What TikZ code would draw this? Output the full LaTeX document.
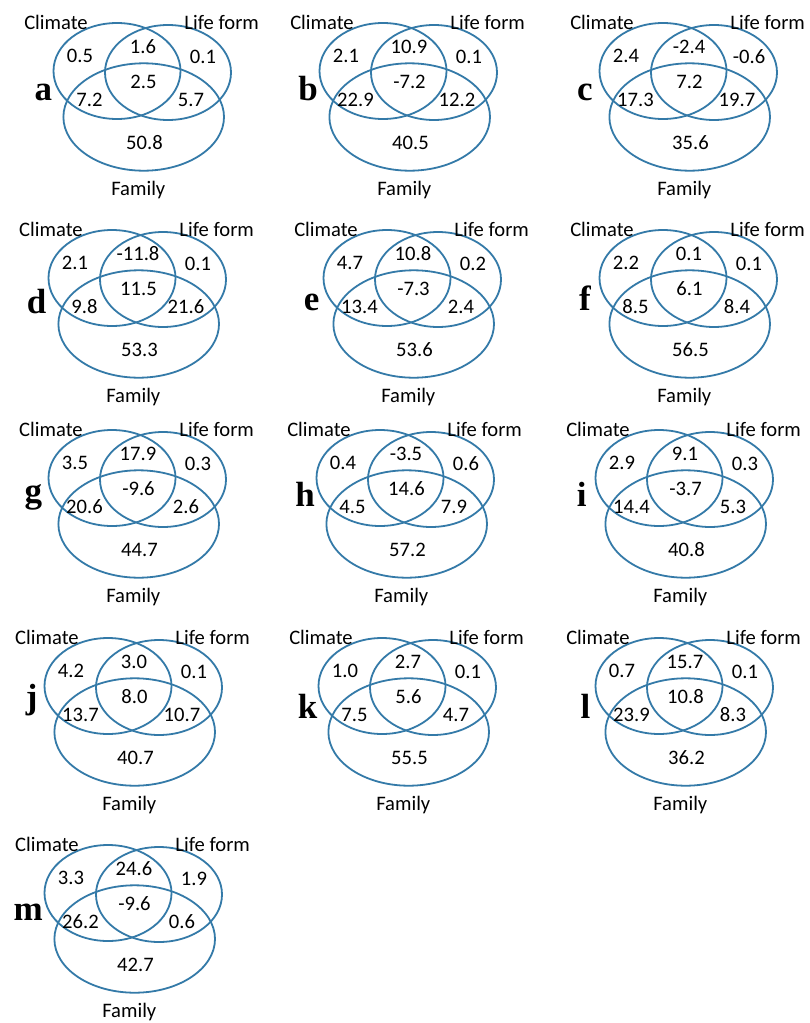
\documentclass[tikz,border=0pt]{standalone}
\usepackage{fontspec}
\setmainfont{Carlito}
\newfontfamily\letterfont{Liberation Serif}
\definecolor{vennblue}{RGB}{52,122,168}
\tikzset{
  vring/.style={draw=vennblue, line width=1.8pt},
  vtext/.style={font=\fontsize{20.6}{24}\selectfont, inner sep=0pt, text=black},
  vletter/.style={font=\letterfont\bfseries\fontsize{35}{40}\selectfont, inner sep=0pt, anchor=base},
}
% #1 panel name, #2 shift "dx,dy", #3..#9 the seven region values
\newcommand\vennpanel[9]{%
  \begin{scope}[shift={(#2)}]
    \draw[vring] (117,71) ellipse [x radius=63.5pt, y radius=48pt];
    \draw[vring] (168,72.5) ellipse [x radius=63pt, y radius=47.5pt];
    \draw[vring] (143.7,117) ellipse [x radius=80.3pt, y radius=53.7pt];
    \node[vtext] (#1-cl) at (56,22.7) {Climate};
    \node[vtext] (#1-lf) at (221.7,22.7) {Life form};
    \node[vtext] (#1-fa) at (138.3,190) {Family};
    \node[vtext] (#1-n1) at (80,55.5) {#3};
    \node[vtext] (#1-n2) at (143,46.7) {#4};
    \node[vtext] (#1-n3) at (203,57) {#5};
    \node[vtext] (#1-n4) at (143.5,82) {#6};
    \node[vtext] (#1-n5) at (89.5,100) {#7};
    \node[vtext] (#1-n6) at (191,100) {#8};
    \node[vtext] (#1-n7) at (144.5,142.7) {#9};
  \end{scope}%
}
\begin{document}
\begin{tikzpicture}[x=1pt,y=-1pt]
  \fill[white] (0,0) rectangle (809,1023);
  \useasboundingbox (0,0) rectangle (809,1023);

  \vennpanel{a}{0,0}{0.5}{1.6}{0.1}{2.5}{7.2}{5.7}{50.8}
  \vennpanel{b}{266,0}{2.1}{10.9}{0.1}{-7.2}{22.9}{12.2}{40.5}
  \vennpanel{c}{546,0}{2.4}{-2.4}{-0.6}{7.2}{17.3}{19.7}{35.6}
  \vennpanel{d}{-5,207}{2.1}{-11.8}{0.1}{11.5}{9.8}{21.6}{53.3}
  \vennpanel{e}{270,207}{4.7}{10.8}{0.2}{-7.3}{13.4}{2.4}{53.6}
  \vennpanel{f}{546,207}{2.2}{0.1}{0.1}{6.1}{8.5}{8.4}{56.5}
  \vennpanel{g}{-5,407}{3.5}{17.9}{0.3}{-9.6}{20.6}{2.6}{44.7}
  \vennpanel{h}{263,407}{0.4}{-3.5}{0.6}{14.6}{4.5}{7.9}{57.2}
  \vennpanel{i}{542,407}{2.9}{9.1}{0.3}{-3.7}{14.4}{5.3}{40.8}
  \vennpanel{j}{-9,615}{4.2}{3.0}{0.1}{8.0}{13.7}{10.7}{40.7}
  \vennpanel{k}{265,615}{1.0}{2.7}{0.1}{5.6}{7.5}{4.7}{55.5}
  \vennpanel{l}{542,615}{0.7}{15.7}{0.1}{10.8}{23.9}{8.3}{36.2}
  \vennpanel{m}{-9,822}{3.3}{24.6}{1.9}{-9.6}{26.2}{0.6}{42.7}

  \node[vletter] (a-let) at (43.3,100) {a};
  \node[vletter] (b-let) at (308,100) {b};
  \node[vletter] (c-let) at (585,100) {c};
  \node[vletter] (d-let) at (36.7,313) {d};
  \node[vletter] (e-let) at (311.7,310) {e};
  \node[vletter] (f-let) at (585,310) {f};
  \node[vletter] (g-let) at (33.3,502.5) {g};
  \node[vletter] (h-let) at (305,506.7) {h};
  \node[vletter] (i-let) at (581.7,506.7) {i};
  \node[vletter] (j-let) at (31.7,708) {j};
  \node[vletter] (k-let) at (307.7,718) {k};
  \node[vletter] (l-let) at (585.6,718) {l};
  \node[vletter] (m-let) at (28.3,920) {m};
\end{tikzpicture}
\end{document}
